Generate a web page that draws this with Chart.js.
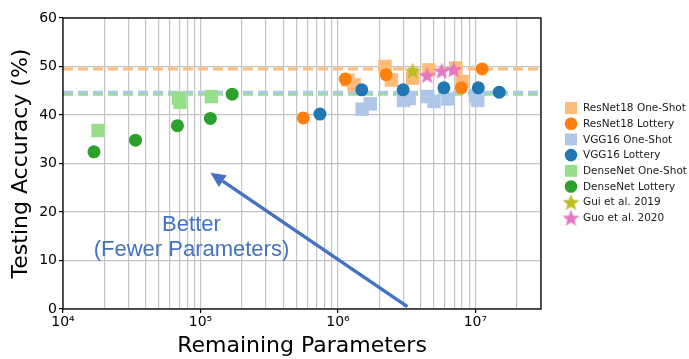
<!DOCTYPE html>
<html>
<head>
<meta charset="utf-8">
<script src="https://cdn.jsdelivr.net/npm/chart.js@4.4.1/dist/chart.umd.min.js"></script>
<style>
    html, body { margin: 0; padding: 0; background: #fff; }
    #wrap { width: 689px; height: 359px; }
</style>
</head>
<body>
<div id="wrap"><canvas id="chart"></canvas></div>
<script>
// --- Data ---
const resnetOneShotX = [1.18e6, 1.31e6, 2.2e6, 2.45e6, 3.5e6, 4.6e6, 7.2e6, 8.0e6];
const resnetOneShotY = [47.2, 46.2, 50.0, 47.2, 47.6, 49.3, 49.7, 46.9];
const resnetLotteryX = [5.6e5, 1.13e6, 2.24e6, 7.9e6, 1.12e7];
const resnetLotteryY = [39.4, 47.4, 48.3, 45.6, 49.5];
const vggOneShotX = [1.5e6, 1.72e6, 3.0e6, 3.3e6, 4.5e6, 5.0e6, 6.3e6, 1.0e7, 1.04e7];
const vggOneShotY = [41.2, 42.3, 43.0, 43.4, 43.8, 42.8, 43.3, 44.0, 43.0];
const vggLotteryX = [7.4e5, 1.49e6, 2.98e6, 5.9e6, 1.05e7, 1.49e7];
const vggLotteryY = [40.2, 45.2, 45.2, 45.6, 45.6, 44.7];
const denseOneShotX = [1.8e4, 6.9e4, 7.1e4, 1.2e5];
const denseOneShotY = [36.8, 43.5, 42.6, 43.8];
const denseLotteryX = [1.68e4, 3.37e4, 6.8e4, 1.18e5, 1.7e5];
const denseLotteryY = [32.4, 34.8, 37.8, 39.3, 44.3];
const guiX = [3.5e6];
const guiY = [49.1];
const guoX = [4.45e6, 5.7e6, 6.95e6];
const guoY = [48.2, 49.1, 49.4];

// dense (unpruned) baselines
const resnetBaseline = 49.5;
const vggBaseline = 44.7;
const denseBaseline = 44.3;

const xMin = 1e4, xMax = 3e7;
const yTicks = [0, 10, 20, 30, 40, 50, 60];
const xMajorTicks = [1e4, 1e5, 1e6, 1e7];
const xTickLabels = ['10⁴', '10⁵', '10⁶', '10⁷'];

// annotation: arrow tail/tip and text in data coordinates
const arrowTail = { x: 3.2e6, y: 0.5 };
const arrowTip = { x: 1.18e5, y: 28.1 };
const noteLines = ['Better', '(Fewer Parameters)'];
const noteX = 8.6e4;
const noteY = [17.3, 12.1];

// --- Helpers ---
const zip = (xs, ys) => xs.map((x, i) => ({ x, y: ys[i] }));

function starImage(color, size) {
    const c = document.createElement('canvas');
    c.width = size; c.height = size;
    const g = c.getContext('2d');
    const cx = size / 2, cy = size / 2 + 0.8;
    const ro = size / 2 - 0.5, ri = ro * 0.42;
    g.beginPath();
    for (let i = 0; i < 10; i++) {
        const r = i % 2 === 0 ? ro : ri;
        const a = -Math.PI / 2 + i * Math.PI / 5;
        g.lineTo(cx + r * Math.cos(a), cy + r * Math.sin(a));
    }
    g.closePath();
    g.fillStyle = color;
    g.fill();
    return c;
}

const guiStar = starImage('#bcbd22', 19);
const guoStar = starImage('#e377c2', 19);

function scatterSet(label, xs, ys, color, style, radius, order) {
    return {
        type: 'scatter',
        label,
        data: zip(xs, ys),
        backgroundColor: color,
        borderColor: color,
        borderWidth: 0,
        pointStyle: style,
        pointRadius: radius,
        pointHoverRadius: radius,
        order
    };
}

function baselineSet(value, color, order) {
    return {
        type: 'line',
        label: '',
        data: [{ x: xMin, y: value }, { x: xMax, y: value }],
        borderColor: color,
        borderWidth: 3,
        borderDash: [10, 5],
        pointRadius: 0,
        fill: false,
        order
    };
}

const datasets = [
    scatterSet('ResNet18 One-Shot', resnetOneShotX, resnetOneShotY, '#ffbb78', 'rect', 9.5, 8),
    scatterSet('ResNet18 Lottery', resnetLotteryX, resnetLotteryY, '#ff7f0e', 'circle', 6.5, 7),
    scatterSet('VGG16 One-Shot', vggOneShotX, vggOneShotY, '#aec7e8', 'rect', 9.5, 6),
    scatterSet('VGG16 Lottery', vggLotteryX, vggLotteryY, '#1f77b4', 'circle', 6.5, 5),
    scatterSet('DenseNet One-Shot', denseOneShotX, denseOneShotY, '#98df8a', 'rect', 9.5, 4),
    scatterSet('DenseNet Lottery', denseLotteryX, denseLotteryY, '#2ca02c', 'circle', 6.5, 3),
    scatterSet('Gui et al. 2019', guiX, guiY, '#bcbd22', guiStar, 9, 2),
    scatterSet('Guo et al. 2020', guoX, guoY, '#e377c2', guoStar, 9, 1),
    baselineSet(denseBaseline, '#98df8a', 12),
    baselineSet(vggBaseline, '#aec7e8', 11),
    baselineSet(resnetBaseline, '#ffbb78', 10)
];

// --- Plugins: frame, arrow note, legend ---
const framePlugin = {
    id: 'frame',
    afterDatasetsDraw(chart) {
        const { ctx, chartArea: a, scales } = chart;
        const x = scales.x, y = scales.y;

        // arrow
        const tx = x.getPixelForValue(arrowTail.x), ty = y.getPixelForValue(arrowTail.y);
        const hx = x.getPixelForValue(arrowTip.x), hy = y.getPixelForValue(arrowTip.y);
        const ang = Math.atan2(hy - ty, hx - tx);
        const headLen = 15, headW = 7;
        const bx = hx - headLen * Math.cos(ang), by = hy - headLen * Math.sin(ang);
        ctx.save();
        ctx.strokeStyle = '#4472c4';
        ctx.fillStyle = '#4472c4';
        ctx.lineWidth = 3.5;
        ctx.beginPath();
        ctx.moveTo(tx, ty);
        ctx.lineTo(bx, by);
        ctx.stroke();
        ctx.beginPath();
        ctx.moveTo(hx, hy);
        ctx.lineTo(bx + headW * Math.sin(ang), by - headW * Math.cos(ang));
        ctx.lineTo(bx - headW * Math.sin(ang), by + headW * Math.cos(ang));
        ctx.closePath();
        ctx.fill();

        // note text
        ctx.font = '22px "Liberation Sans", Arial, sans-serif';
        ctx.textAlign = 'center';
        ctx.textBaseline = 'middle';
        const nx = x.getPixelForValue(noteX);
        noteLines.forEach((t, i) => ctx.fillText(t, nx, y.getPixelForValue(noteY[i])));

        // box around the axes
        ctx.strokeStyle = '#000';
        ctx.lineWidth = 1.3;
        ctx.strokeRect(a.left, a.top, a.right - a.left, a.bottom - a.top);
        ctx.restore();
    },
    afterDraw(chart) {
        const { ctx } = chart;
        const left = 571, top = 108, step = 15.7;
        ctx.save();
        ctx.font = '10.5px "DejaVu Sans", sans-serif';
        ctx.textBaseline = 'middle';
        ctx.textAlign = 'left';
        chart.data.datasets.filter(d => d.label).forEach((d, i) => {
            const cy = top + i * step;
            ctx.fillStyle = d.backgroundColor;
            if (d.pointStyle === 'rect') {
                ctx.fillRect(left - 6, cy - 6, 12, 12);
            } else if (d.pointStyle === 'circle') {
                ctx.beginPath();
                ctx.arc(left, cy, 6.3, 0, Math.PI * 2);
                ctx.fill();
            } else {
                ctx.drawImage(d.pointStyle, left - 9.5, cy - 9.5);
            }
            ctx.fillStyle = '#1a1a1a';
            ctx.fillText(d.label, left + 12, cy + 0.5);
        });
        ctx.restore();
    }
};

// --- Chart ---
new Chart(document.getElementById('chart'), {
    data: { datasets },
    options: {
        responsive: true,
        maintainAspectRatio: false,
        animation: false,
        events: [],
        layout: { padding: { top: 18, right: 148, left: 0, bottom: 0 } },
        plugins: {
            legend: { display: false },
            tooltip: { enabled: false }
        },
        scales: {
            x: {
                type: 'logarithmic',
                min: xMin,
                max: xMax,
                afterBuildTicks(scale) {
                    const ticks = [];
                    for (let e = 4; e <= 7; e++) {
                        for (let m = 1; m <= 9; m++) {
                            const v = m * Math.pow(10, e);
                            if (v <= xMax) ticks.push({ value: v, major: m === 1 });
                        }
                    }
                    scale.ticks = ticks;
                },
                afterFit(scale) { scale.height = 50; },
                ticks: {
                    autoSkip: false,
                    maxRotation: 0,
                    padding: 1,
                    color: '#000',
                    font: { family: '"DejaVu Sans"', size: 14 },
                    callback(value) {
                        const i = xMajorTicks.findIndex(t => Math.abs(t - value) < t * 1e-6);
                        return i >= 0 ? xTickLabels[i] : '';
                    }
                },
                grid: {
                    color: '#c4c4c4',
                    lineWidth: 1.2,
                    tickLength: 4,
                    tickColor: ctx => (ctx.tick && ctx.tick.major ? '#000' : 'rgba(0,0,0,0)')
                },
                border: { display: false },
                title: {
                    display: true,
                    text: 'Remaining Parameters',
                    color: '#000',
                    font: { family: '"DejaVu Sans"', size: 22 },
                    padding: { top: 0, bottom: 0 }
                }
            },
            y: {
                min: 0,
                max: 60,
                afterBuildTicks(scale) {
                    scale.ticks = yTicks.map(v => ({ value: v }));
                },
                afterFit(scale) { scale.width = 63; },
                ticks: {
                    color: '#000',
                    padding: 2,
                    font: { family: '"DejaVu Sans"', size: 14 }
                },
                grid: {
                    color: '#c4c4c4',
                    lineWidth: 1.2,
                    tickLength: 4,
                    tickColor: '#000'
                },
                border: { display: false },
                title: {
                    display: true,
                    text: 'Testing Accuracy (%)',
                    color: '#000',
                    font: { family: '"DejaVu Sans"', size: 22 },
                    padding: { top: 8, bottom: 0 }
                }
            }
        }
    },
    plugins: [framePlugin]
});
</script>
</body>
</html>
